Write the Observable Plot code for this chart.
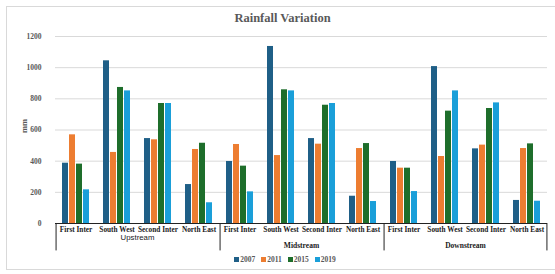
<!DOCTYPE html>
<html>
<head>
<meta charset="utf-8">
<script src="https://cdn.jsdelivr.net/npm/d3@7"></script>
<script src="https://cdn.jsdelivr.net/npm/@observablehq/plot@0.6"></script>
<style>
  html, body { margin: 0; padding: 0; background: #fff; }
  #wrap { position: relative; width: 555px; height: 274px; overflow: hidden; }
  #border { position: absolute; left: 6px; top: 6px; width: 560px; height: 264px; border: 1px solid #d9d9d9; box-sizing: border-box; }
  #title { position: absolute; left: 0; top: 11px; width: 565px; text-align: center; font: bold 12.5px "Liberation Serif", serif; color: #595959; }
  #legend { position: absolute; left: 0; top: 255px; width: 570px; text-align: center; font: bold 7.5px "Liberation Serif", serif; color: #595959; }
  #legend span.item { margin: 0 3px; white-space: nowrap; }
  #legend span.sw { display: inline-block; width: 5px; height: 5px; margin-right: 1px; vertical-align: 0px; }
  #chart { position: absolute; left: 0; top: 0; }
</style>
</head>
<body>
<div id="wrap">
  <div id="border"></div>
  <div id="chart"></div>
  <div id="title"></div>
  <div id="legend"></div>
</div>
<script>
const chartTitle = "Rainfall Variation";
const groups = ["Upstream", "Midstream", "Downstream"];
const directions = ["First Inter", "South West", "Second Inter", "North East"];
const years = ["2007", "2011", "2015", "2019"];
const colors = ["#1f5f87", "#ed7d31", "#1e6e2b", "#1a9fd9"];
const yTicks = [0, 200, 400, 600, 800, 1000, 1200];
const yLabel = "mm";
// values in group order (Upstream, Midstream, Downstream), each with 4 directions
const v2007 = [387, 1044, 545, 250, 398, 1136, 545, 175, 398, 1007, 479, 148];
const v2011 = [569, 456, 537, 475, 507, 436, 509, 481, 355, 430, 503, 481];
const v2015 = [381, 873, 770, 515, 368, 858, 759, 513, 355, 721, 738, 511];
const v2019 = [216, 851, 770, 133, 203, 851, 770, 141, 205, 851, 774, 143];
const series = [v2007, v2011, v2015, v2019];

const keys = [];
const cats = [];
groups.forEach((g, gi) => directions.forEach((d, di) => {
  const key = g + "|" + d;
  keys.push(key);
  cats.push({key, group: g, dir: d, gi, di});
}));
const rows = [];
cats.forEach((c, ci) => years.forEach((yr, yi) => {
  rows.push({key: c.key, year: yr, value: series[yi][ci]});
}));

const W = 555, H = 274, mL = 50, mR = 4, mT = 36, mB = 51;
const padIn = 0.17, padOut = 0.82;
const facetW = (W - mL - mR) / keys.length;
const step = facetW / (years.length - padIn + 2 * padOut);
const bw = step * (1 - padIn);
const edgeShift = padOut * step + bw / 2;

const firstOfGroup = cats.filter(c => c.di === 0);
const lastOfAll = cats.filter(c => c.gi === groups.length - 1 && c.di === directions.length - 1);
const secondOfGroup = cats.filter(c => c.di === 1);

const serif = "'Liberation Serif', serif";

const plot = Plot.plot({
  width: W, height: H,
  marginLeft: mL, marginRight: mR, marginTop: mT, marginBottom: mB,
  style: {fontFamily: serif, fontSize: "7.5px", fontWeight: "bold", color: "#595959", background: "transparent", overflow: "visible"},
  fx: {domain: keys, padding: 0, axis: null},
  x: {domain: years, paddingInner: padIn, paddingOuter: padOut, axis: null},
  y: {domain: [0, 1200], ticks: yTicks, tickSize: 0, tickPadding: 14, label: null, tickFormat: d => String(d)},
  color: {domain: years, range: colors},
  marks: [
    Plot.gridY(yTicks.filter(t => t > 0), {stroke: "#d9d9d9", strokeOpacity: 1, strokeWidth: 1}),
    Plot.barY(rows, {fx: "key", x: "year", y: "value", fill: "year"}),
    Plot.ruleY([0], {stroke: "#222", strokeWidth: 1}),
    Plot.ruleX(firstOfGroup, {fx: "key", x: () => years[0], y1: 0, y2: -176, dx: -edgeShift, stroke: "#222", strokeWidth: 1}),
    Plot.ruleX(lastOfAll, {fx: "key", x: () => years[years.length - 1], y1: 0, y2: -176, dx: edgeShift, stroke: "#222", strokeWidth: 1}),
    Plot.text([{key: keys[0], t: yLabel}], {fx: "key", text: "t", frameAnchor: "left", dx: -31, dy: 3, rotate: -90, fill: "#595959", fontSize: 8.5, fontWeight: "bold"}),
    Plot.text(cats, {fx: "key", text: "dir", frameAnchor: "bottom", dy: 8, fill: "#1a1a1a", fontSize: 7.3, fontWeight: "bold"}),
    Plot.text(secondOfGroup.filter(c => c.gi === 0), {fx: "key", text: "group", frameAnchor: "bottom-right", dy: 16.5, textAnchor: "middle", fill: "#1a1a1a", fontSize: 7.8, fontWeight: "normal", fontFamily: "'Liberation Sans', sans-serif"}),
    Plot.text(secondOfGroup.filter(c => c.gi > 0), {fx: "key", text: "group", frameAnchor: "bottom-right", dy: 24, textAnchor: "middle", fill: "#1a1a1a", fontSize: 7.5, fontWeight: "bold"})
  ]
});
document.getElementById("chart").appendChild(plot);
document.getElementById("title").textContent = chartTitle;
const leg = document.getElementById("legend");
years.forEach((yr, i) => {
  const item = document.createElement("span");
  item.className = "item";
  const sw = document.createElement("span");
  sw.className = "sw";
  sw.style.background = colors[i];
  item.appendChild(sw);
  item.appendChild(document.createTextNode(yr));
  leg.appendChild(item);
});
</script>
</body>
</html>
